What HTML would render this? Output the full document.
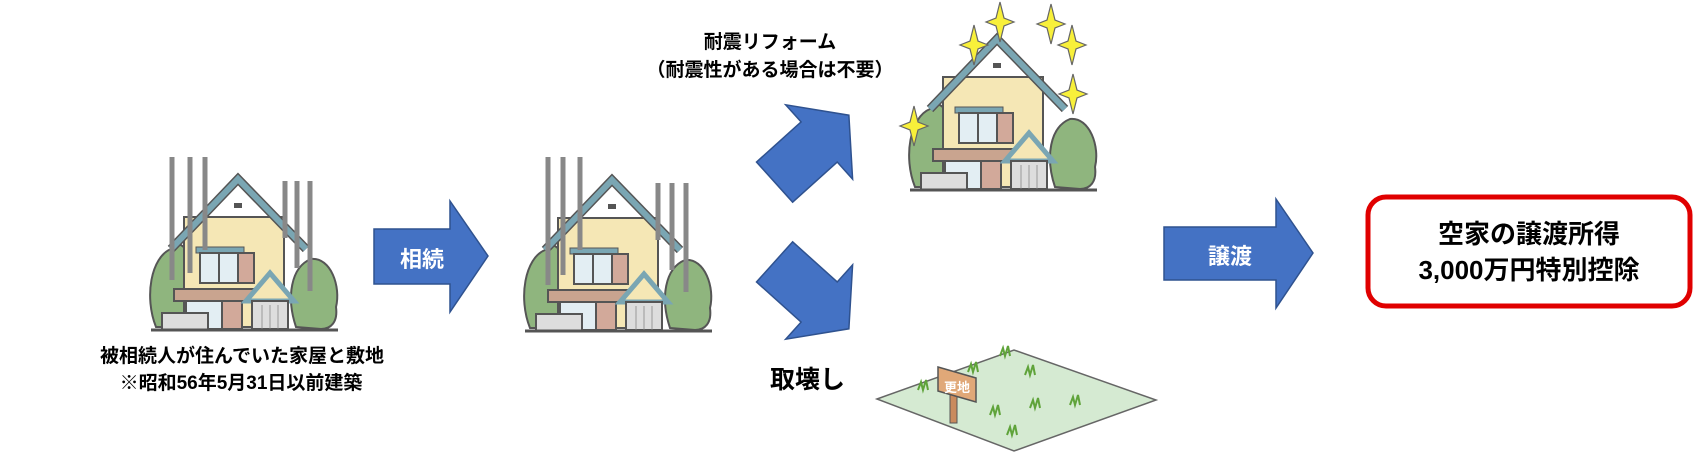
<!DOCTYPE html>
<html><head><meta charset="utf-8"><style>
html,body{margin:0;padding:0;background:#fff;}
body{width:1695px;height:452px;position:relative;overflow:hidden;font-family:"Liberation Sans","Noto Sans CJK JP",sans-serif;}
.t{position:absolute;color:#000;font-weight:bold;text-align:center;white-space:nowrap;}
</style></head><body>
<svg width="1695" height="452" style="position:absolute;left:0;top:0">
<defs>
<g id="house">
  <path d="M10,150 C-2,120 5,80 25,72 C35,60 45,75 42,90 L42,150 Z" fill="#8fb57e" stroke="#555" stroke-width="2"/>
  <path d="M150,150 C140,120 145,90 165,82 C185,80 195,110 190,130 C192,145 185,152 175,152 Z" fill="#8fb57e" stroke="#555" stroke-width="2"/>
  <rect x="38" y="40" width="100" height="110" fill="#f5e7b5" stroke="#555" stroke-width="2"/>
  <polyline points="25,72 92,2 160,72" fill="none" stroke="#555" stroke-width="9"/>
  <polyline points="25,72 92,2 160,72" fill="none" stroke="#7aa6b3" stroke-width="6"/>
  <rect x="88" y="26" width="8" height="5" fill="#555"/>
  <rect x="50" y="70" width="48" height="6" fill="#7aa6b3" stroke="#555"/>
  <rect x="54" y="76" width="38" height="30" fill="#e3eef3" stroke="#555" stroke-width="2"/>
  <line x1="73" y1="76" x2="73" y2="106" stroke="#555" stroke-width="2"/>
  <rect x="92" y="76" width="16" height="30" fill="#d2a99a" stroke="#555" stroke-width="2"/>
  <rect x="28" y="112" width="100" height="12" fill="#c9a48f" stroke="#555" stroke-width="2"/>
  <rect x="40" y="124" width="36" height="28" fill="#e3eef3" stroke="#555" stroke-width="2"/>
  <rect x="76" y="124" width="20" height="28" fill="#d2a99a" stroke="#555" stroke-width="2"/>
  <polygon points="100,124 124,96 148,124" fill="#f5e7b5" stroke="#7aa6b3" stroke-width="5"/>
  <rect x="106" y="124" width="36" height="28" fill="#ddd" stroke="#555" stroke-width="2"/>
  <line x1="116" y1="128" x2="116" y2="152" stroke="#999"/><line x1="124" y1="128" x2="124" y2="152" stroke="#999"/><line x1="132" y1="128" x2="132" y2="152" stroke="#999"/>
  <rect x="16" y="136" width="46" height="17" fill="#ddd" stroke="#555" stroke-width="2"/>
  <line x1="5" y1="153" x2="192" y2="153" stroke="#555" stroke-width="3"/>
</g>
<g id="star"><path d="M0,-20 L4,-4 L14,0 L4,4 L0,20 L-4,4 L-14,0 L-4,-4 Z" fill="#f8f03a" stroke="#666" stroke-width="1.2"/></g>
</defs>
<!-- house1 -->
<use href="#house" x="146" y="177"/>
<g stroke="#888" stroke-width="5">
<line x1="172" y1="157" x2="172" y2="280"/><line x1="190" y1="157" x2="190" y2="273"/><line x1="205" y1="157" x2="205" y2="250"/>
<line x1="285" y1="181" x2="285" y2="238"/><line x1="297" y1="181" x2="297" y2="268"/><line x1="310" y1="181" x2="310" y2="291"/>
</g>
<!-- house2 -->
<use href="#house" x="520" y="178"/>
<g stroke="#888" stroke-width="5">
<line x1="548" y1="157" x2="548" y2="285"/><line x1="563" y1="157" x2="563" y2="275"/><line x1="580" y1="157" x2="580" y2="250"/>
<line x1="658" y1="183" x2="658" y2="240"/><line x1="672" y1="183" x2="672" y2="270"/><line x1="686" y1="183" x2="686" y2="292"/>
</g>
<!-- house3 -->
<use href="#house" x="905" y="37"/>
<use href="#star" x="974" y="45"/><use href="#star" x="1000" y="22"/><use href="#star" x="1051" y="24"/>
<use href="#star" x="1072" y="45"/><use href="#star" x="1073" y="94"/><use href="#star" x="914" y="126"/>
<!-- arrows -->
<polygon points="374,229 450,229 450,201 488,256 450,312 450,284 374,284" fill="#4472c4" stroke="#2f528f" stroke-width="1.5"/>
<polygon points="1164,227 1276,227 1276,199 1313,253 1276,308 1276,280 1164,280" fill="#4472c4" stroke="#2f528f" stroke-width="1.5"/>
<polygon points="-45,-27 15,-27 15,-50 55,0 15,50 15,27 -45,27" fill="#4472c4" stroke="#2f528f" stroke-width="1.5" transform="translate(808,152) rotate(-42)"/>
<polygon points="-45,-27 15,-27 15,-50 55,0 15,50 15,27 -45,27" fill="#4472c4" stroke="#2f528f" stroke-width="1.5" transform="translate(808,292) rotate(42)"/>
<!-- land -->
<polygon points="877,399 1014,350 1156,400 1014,451" fill="#d5ead2" stroke="#666" stroke-width="1.5"/>
<g stroke="#5fa33a" stroke-width="2" fill="none">
<path d="M1000,356 l3,-8 l2,8 l3,-10 l2,10"/><path d="M1025,375 l3,-8 l2,8 l3,-10 l2,10"/><path d="M1070,405 l3,-8 l2,8 l3,-10 l2,10"/>
<path d="M1030,408 l3,-8 l2,8 l3,-10 l2,10"/><path d="M990,415 l3,-8 l2,8 l3,-10 l2,10"/><path d="M1007,435 l3,-8 l2,8 l3,-10 l2,10"/>
<path d="M918,390 l3,-8 l2,8 l3,-10 l2,10"/><path d="M968,372 l3,-8 l2,8 l3,-10 l2,10"/>
</g>
<rect x="952" y="422" width="6" height="0" />
<rect x="950" y="385" width="7" height="38" fill="#c98b5e" stroke="#555"/>
<polygon points="938,367 976,378 976,402 938,391" fill="#e0a878" stroke="#555" stroke-width="1.5"/>
<text x="957" y="392" font-size="13" font-weight="bold" fill="#fff" text-anchor="middle" font-family="Liberation Sans,Noto Sans CJK JP,sans-serif">更地</text>
<!-- red box -->
<rect x="1368" y="197" width="322" height="109" rx="18" ry="18" fill="#fff" stroke="#e00000" stroke-width="5"/>
</svg>
<div class="t" style="left:374px;width:96px;top:242px;font-size:22px;color:#fff;">相続</div>
<div class="t" style="left:1180px;width:100px;top:239px;font-size:22px;color:#fff;">譲渡</div>
<div class="t" style="left:100px;width:282px;top:343px;font-size:19px;line-height:27px;">被相続人が住んでいた家屋と敷地<br>※昭和56年5月31日以前建築</div>
<div class="t" style="left:630px;width:280px;top:29px;font-size:19px;line-height:28px;">耐震リフォーム<br>（耐震性がある場合は不要）</div>
<div class="t" style="left:760px;width:95px;top:360px;font-size:25px;">取壊し</div>
<div class="t" style="left:1368px;width:322px;top:216px;font-size:26px;line-height:36px;">空家の譲渡所得<br>3,000万円特別控除</div>
</body></html>
